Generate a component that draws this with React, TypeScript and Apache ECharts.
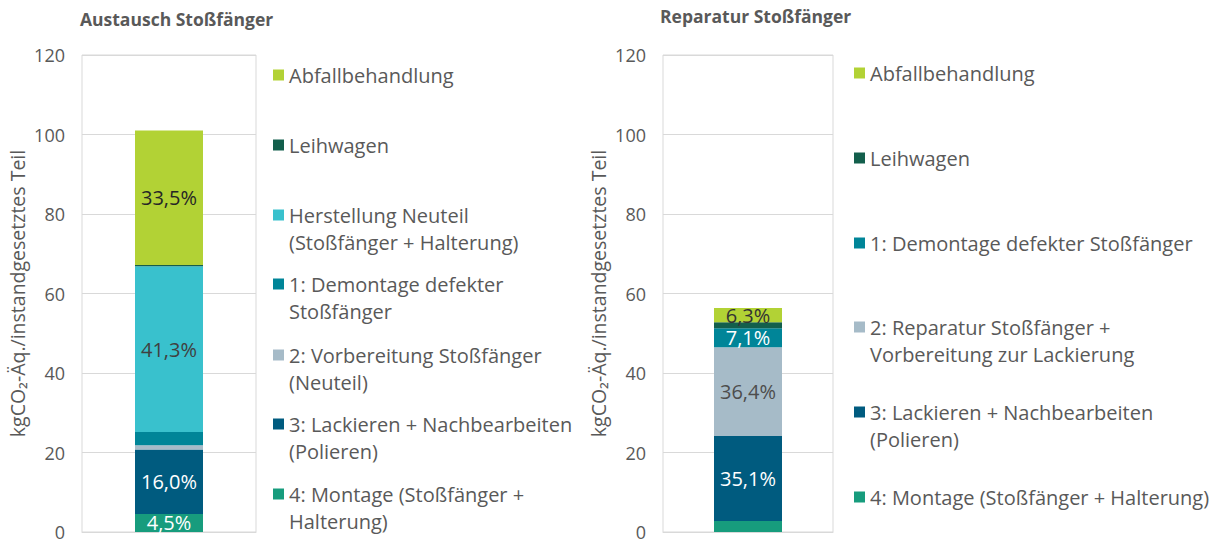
import { useEffect, useRef } from 'react';
import * as echarts from 'echarts';

const FONT = '"Open Sans", "Noto Sans", sans-serif';
const TEXT = '#595959';

// ---- data ----
const categories = [''];
const yMin = 0;
const yMax = 120;
const yInterval = 20;

const titleLeft = 'Austausch Stoßfänger';
const titleRight = 'Reparatur Stoßfänger';
const axisName = 'kgCO₂-Äq./instandgesetztes Teil';

const leftNames = [
  '4: Montage (Stoßfänger + Halterung)',
  '3: Lackieren + Nachbearbeiten (Polieren)',
  '2: Vorbereitung Stoßfänger (Neuteil)',
  '1: Demontage defekter Stoßfänger',
  'Herstellung Neuteil (Stoßfänger + Halterung)',
  'Leihwagen',
  'Abfallbehandlung',
];
const leftValues = [4.55, 16.2, 1.1, 3.3, 41.7, 0.3, 33.85];
const leftLabels = ['4,5%', '16,0%', '', '', '41,3%', '', '33,5%'];
const leftColors = ['#179c7d', '#005b7f', '#a6bbc8', '#008598', '#39c1cd', '#135f4c', '#b2d235'];
const leftLabelColors = ['#ffffff', '#ffffff', '#ffffff', '#ffffff', '#404040', '#ffffff', '#262626'];

const rightNames = [
  '4: Montage (Stoßfänger + Halterung)',
  '3: Lackieren + Nachbearbeiten (Polieren)',
  '2: Reparatur Stoßfänger + Vorbereitung zur Lackierung',
  '1: Demontage defekter Stoßfänger',
  'Leihwagen',
  'Abfallbehandlung',
];
const rightValues = [2.77, 21.4, 22.3, 4.8, 1.5, 3.6];
const rightLabels = ['', '35,1%', '36,4%', '7,1%', '', '6,3%'];
const rightColors = ['#179c7d', '#005b7f', '#a6bbc8', '#008598', '#135f4c', '#b2d235'];
const rightLabelColors = ['#ffffff', '#ffffff', '#4d4d4d', '#ffffff', '#ffffff', '#333333'];

// legend entries (top to bottom) with displayed line breaks
const leftLegendNames = [
  'Abfallbehandlung',
  'Leihwagen',
  'Herstellung Neuteil (Stoßfänger + Halterung)',
  '1: Demontage defekter Stoßfänger',
  '2: Vorbereitung Stoßfänger (Neuteil)',
  '3: Lackieren + Nachbearbeiten (Polieren)',
  '4: Montage (Stoßfänger + Halterung)',
];
const leftLegendLines = [
  ['Abfallbehandlung'],
  ['Leihwagen'],
  ['Herstellung Neuteil', '(Stoßfänger + Halterung)'],
  ['1: Demontage defekter', 'Stoßfänger'],
  ['2: Vorbereitung Stoßfänger', '(Neuteil)'],
  ['3: Lackieren + Nachbearbeiten', '(Polieren)'],
  ['4: Montage (Stoßfänger +', 'Halterung)'],
];
const rightLegendNames = [
  'Abfallbehandlung',
  'Leihwagen',
  '1: Demontage defekter Stoßfänger',
  '2: Reparatur Stoßfänger + Vorbereitung zur Lackierung',
  '3: Lackieren + Nachbearbeiten (Polieren)',
  '4: Montage (Stoßfänger + Halterung)',
];
const rightLegendLines = [
  ['Abfallbehandlung'],
  ['Leihwagen'],
  ['1: Demontage defekter Stoßfänger'],
  ['2: Reparatur Stoßfänger +', 'Vorbereitung zur Lackierung'],
  ['3: Lackieren + Nachbearbeiten', '(Polieren)'],
  ['4: Montage (Stoßfänger + Halterung)'],
];

// layout (first-line centre y of each legend entry)
const leftLegendY = [75, 145, 215, 284, 355, 424, 494];
const rightLegendY = [73, 158, 243, 327, 412, 497];
const LH = 27;

function makeLegends(names: string[], lines: string[][], ys: number[], x: number) {
  return names.map((name, i) => {
    const n = lines[i].length;
    // pad with blank lines above so the first line sits level with the marker
    const blanks: string[] = [];
    for (let k = 1; k < n; k++) blanks.push(' ');
    const text = [...blanks, ...lines[i]].join('\n');
    return {
      left: x,
      top: ys[i] - ((2 * n - 1) * LH) / 2,
      orient: 'vertical',
      padding: 0,
      itemWidth: 11,
      itemHeight: 11,
      itemGap: 0,
      icon: 'rect',
      selectedMode: false,
      data: [name],
      formatter: () => text,
      textStyle: {
        fontSize: 20,
        lineHeight: LH,
        color: TEXT,
        fontFamily: FONT,
      },
    };
  });
}

function makeSeries(
  names: string[],
  values: number[],
  labels: string[],
  colors: string[],
  labelColors: string[],
  idx: number
) {
  return names.map((name, i) => ({
    type: 'bar',
    name,
    stack: 'stack' + idx,
    xAxisIndex: idx,
    yAxisIndex: idx,
    barWidth: 68,
    data: [values[i]],
    itemStyle: { color: colors[i] },
    label: {
      show: !!labels[i],
      position: 'inside',
      formatter: labels[i],
      color: labelColors[i],
      fontSize: 20,
      fontFamily: FONT,
    },
    emphasis: { disabled: true },
  }));
}

function yAxis(idx: number) {
  return {
    type: 'value',
    gridIndex: idx,
    min: yMin,
    max: yMax,
    interval: yInterval,
    name: axisName,
    nameLocation: 'middle',
    nameRotate: 90,
    nameGap: 55,
    nameTextStyle: { fontSize: 19.5, color: TEXT, fontFamily: FONT },
    axisLine: { show: false },
    axisTick: { show: false },
    axisLabel: { fontSize: 18, color: TEXT, fontFamily: FONT, margin: 17 },
    splitLine: { lineStyle: { color: '#d9d9d9', width: 1 } },
  };
}

function xAxis(idx: number) {
  return {
    type: 'category',
    gridIndex: idx,
    data: categories,
    axisLine: { show: true, lineStyle: { color: '#d9d9d9' } },
    axisTick: { show: false },
    axisLabel: { show: false },
  };
}

export default function App() {
  const ref = useRef<HTMLDivElement>(null);
  useEffect(() => {
    if (!ref.current) return;
    const chart = echarts.init(ref.current, null, { renderer: 'svg' });
    chart.setOption({
      animation: false,
      backgroundColor: '#ffffff',
      title: [
        {
          text: titleLeft,
          left: 80,
          top: 10,
          padding: 0,
          textStyle: { fontSize: 17.5, fontWeight: 'bold', color: TEXT, fontFamily: FONT },
        },
        {
          text: titleRight,
          left: 660,
          top: 7,
          padding: 0,
          textStyle: { fontSize: 17.5, fontWeight: 'bold', color: TEXT, fontFamily: FONT },
        },
      ],
      grid: [
        { left: 82, top: 55, width: 174, height: 477, show: true, borderColor: '#d9d9d9', borderWidth: 1 },
        { left: 663, top: 55, width: 170, height: 477, show: true, borderColor: '#d9d9d9', borderWidth: 1 },
      ],
      xAxis: [xAxis(0), xAxis(1)],
      yAxis: [yAxis(0), yAxis(1)],
      legend: [
        ...makeLegends(leftLegendNames, leftLegendLines, leftLegendY, 273),
        ...makeLegends(rightLegendNames, rightLegendLines, rightLegendY, 854),
      ],
      series: [
        ...makeSeries(leftNames, leftValues, leftLabels, leftColors, leftLabelColors, 0),
        ...makeSeries(rightNames, rightValues, rightLabels, rightColors, rightLabelColors, 1),
      ],
    });
    return () => chart.dispose();
  }, []);
  return (
    <div
      ref={ref}
      style={{ position: 'absolute', left: 0, top: 0, width: 1225, height: 541 }}
    />
  );
}
